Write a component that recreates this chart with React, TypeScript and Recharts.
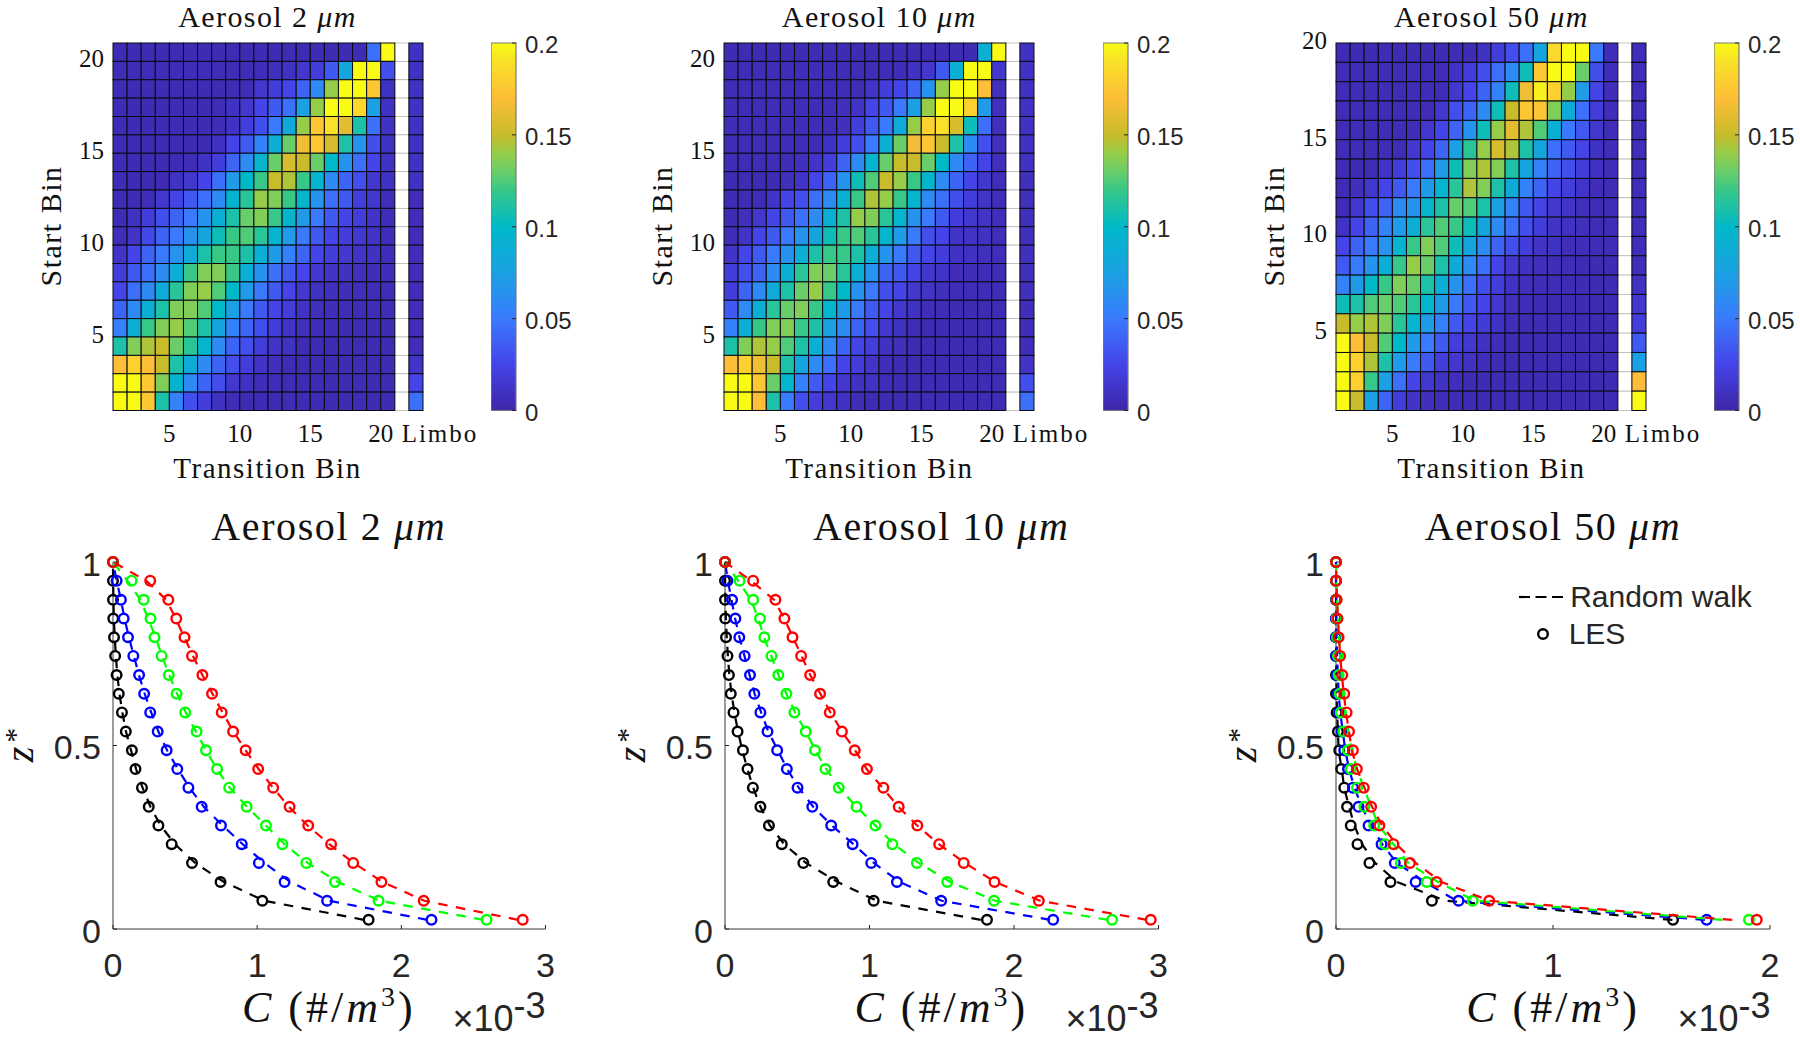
import React from "react";
import {
  BarChart,
  Bar,
  ScatterChart,
  Scatter,
  XAxis,
  YAxis,
} from "recharts";

const _ = null; // NaN column of the pcolor, left white

// transition matrices, values x 0.01, first row is the highest start bin
const heat2um = [
  [.5,.5,.5,.5,.5,.5,.5,.5,.5,.5,.5,.5,.5,.5,.5,.5,.5,.5,4.5,20,_,1],
  [.6,.6,.6,.6,.6,.6,.6,.6,.6,.6,.7,.8,1,1.5,2,3.5,8,20,20,3,_,1],
  [.5,.5,.5,.5,.5,.5,.5,.5,.6,.7,1.5,2,2.5,4,6,14,20,20,17.5,1,_,1],
  [.5,.5,.5,.5,.5,.5,.5,.6,1,1.5,2.5,3.5,4.5,7.5,14,20,20,18.5,7.5,1,_,1],
  [.5,.5,.5,.5,.5,.5,.5,.6,1,2,3,5,8.5,14,17.5,19,16,11,4.5,1,_,1],
  [.5,.5,.5,.5,.5,.5,.5,1,2.5,3.5,5.5,9,13,16.5,17.5,15.5,11,6.5,3,1,_,1],
  [.5,.5,.5,.5,.5,.6,1,2,4,6,9.5,13,15.5,15,13,10,6.5,4.5,2.5,1,_,1],
  [.5,.5,.5,.5,1,1.5,2.5,4.5,7,10,12,15,14.5,12,9.5,6,4,3,1.5,1,_,1],
  [.5,.5,.7,1.5,2.5,3.5,4.5,6,9.5,11.5,14,13.5,12,9.5,6.5,4.5,3.5,2,1.5,.7,_,.7],
  [.5,1,2,3,4,5,6.5,9,11,13,13.5,12,9.5,7,5,3.5,2.5,2,1.2,.7,_,.7],
  [.7,1.2,2.7,4,5,6.5,8,10.5,12,12.5,11.5,9.5,7,5,3.5,2.5,2,1.5,1.2,.7,_,.7],
  [1.2,2.5,4,5,6.5,8.5,11,12,12,11,9,7,5.5,4,2.5,2,1.5,1.2,1,.7,_,.7],
  [2,3.5,4.5,6,9,12,13.5,13.5,12,9,6.5,4.5,3.5,2.5,1.5,1.2,1,.8,.7,.7,_,.7],
  [2.5,4.5,6,8.5,11.5,13.5,14,12.5,10,7,5,3.5,2.5,1.5,1,.8,.7,.7,.6,.6,_,.7],
  [4,6,9,11,13.5,13.5,12.5,10,7.5,5,3.5,2.5,2,1,.8,.7,.6,.6,.6,.6,_,.7],
  [5.5,9,12,13.5,14,12.5,11,8,5.5,4,3,2,1.2,.8,.6,.6,.5,.5,.5,.5,_,.7],
  [11,13.5,14.5,15,13,11.5,9.5,6,4,3,2,1.2,1,.5,.5,.5,.5,.5,.5,.5,_,.7],
  [17,18,17,15,11,8.5,6,4,3,2,1.2,.8,.5,.5,.5,.5,.5,.5,.5,.5,_,1.2],
  [20,20,17.5,13.5,9.5,6,4,3,1.5,1,.7,.6,.5,.5,.5,.5,.5,.5,.5,.5,_,2.5],
  [20,20,17.5,11,5.5,3,2,1,.6,.5,.5,.5,.5,.5,.5,.5,.5,.5,.5,.5,_,4.5],
];

const heat10um = [
  [.5,.5,.5,.5,.5,.5,.5,.5,.5,.5,.5,.5,.5,.5,.5,.5,.5,.5,9,20,_,1],
  [.6,.6,.6,.6,.6,.6,.6,.6,.6,.6,.6,.6,.6,1,1.5,3.5,9,20,20,1.5,_,1],
  [.6,.6,.6,.6,.6,.6,.6,.6,.6,.6,1.2,2,2.5,4,6.5,14,20,20,17,.8,_,1],
  [.6,.6,.6,.6,.6,.6,.6,.6,.8,1.2,2.5,3.5,5,7.5,14,20,20,18,7,.8,_,1],
  [.6,.6,.6,.6,.6,.6,.6,.6,.8,2,3.5,5,8.5,14,18,19,15.5,10.5,4.5,.8,_,1],
  [.6,.6,.6,.6,.6,.6,.6,1,2,3,5,9,13,16.5,17.5,15,11,6,3,.8,_,1],
  [.6,.6,.6,.6,.6,.8,1.2,2,4,6,9.5,13,15,15,13,10,6,4,2.5,.8,_,1],
  [.5,.5,.5,.5,.8,1.2,2.5,4,6.5,10.5,12.5,15,14,12,9.5,6,4,2.5,1.5,.7,_,.8],
  [.5,.5,.6,1.2,2.5,3,4.5,6,9,12,14.5,14,12,9.5,6,4.5,3,2,1.2,.7,_,.8],
  [.5,.8,1.5,2.5,3.5,4.5,6,9,11,14,13.5,11.5,9.5,6.5,5,3.5,2,1.5,1.2,.7,_,.8],
  [.6,1.2,2.5,3.5,5,6.5,8,10.5,12,12.5,11.5,9.5,7,5,3,2.5,1.2,1.2,1,.7,_,.8],
  [1.2,2.5,3.5,5,6.5,9,11,12,12,11,9,6.5,5,3.5,2.5,2,1,1,.8,.7,_,.8],
  [2,3,4,6,9,11.5,13.5,13,11.5,9,6.5,4,3.5,2.5,1.5,1.2,.7,.7,.6,.6,_,.8],
  [2,4,6,8.5,11,13,14,12,10,6.5,5,3,2.5,1.5,1.2,.8,.6,.6,.6,.6,_,.8],
  [3.5,6,9,11.5,13,13.5,12,9.5,7,5,3.5,2.5,1.5,1,.7,.6,.5,.5,.5,.5,_,.7],
  [5.5,9,12,13.5,13.5,12,11,7.5,6,4,3,1.5,1,.6,.5,.5,.5,.5,.5,.5,_,.7],
  [11,13.5,14.5,14,12.5,11,9,6,4,2.5,2,1,.8,.5,.5,.5,.5,.5,.5,.5,_,.7],
  [17,18,16.5,15,11,8,6,4.5,2.5,2,1.2,.7,.5,.5,.5,.5,.5,.5,.5,.5,_,1.2],
  [20,20,17.5,13,9.5,5.5,3.5,2.5,1.5,1,1,.6,.5,.5,.5,.5,.5,.5,.5,.5,_,3],
  [20,20,17,11,5,3,2,1.5,1,.6,.5,.5,.5,.5,.5,.5,.5,.5,.5,.5,_,4.5],
];

const heat50um = [
  [.5,.5,.5,.5,.5,.5,.5,.5,.5,.5,1,2,3,4.5,8,18.5,20,20,5,.7,_,.7],
  [.6,.6,.6,.6,.6,.6,.6,.6,1,2,3,4.5,6,10.5,17.5,20,20,13,3,.7,_,.7],
  [.6,.6,.6,.6,.6,.6,.6,.6,1.5,2.5,4,5.5,10.5,16.5,19.5,18,14,7,2.5,.7,_,.7],
  [.6,.6,.6,.6,.6,.6,.6,1.5,3,4,6,10.5,15,17.5,17.5,13.5,8.5,4.5,2,.7,_,.7],
  [.6,.6,.6,.6,.6,.6,1.5,2.5,4,6.5,10.5,14,16,14.5,12.5,9,5,3.5,1.5,.7,_,.7],
  [.6,.6,.6,.6,.6,1.5,2.5,4,7.5,11.5,14,15.5,14.5,11,8,4.5,3.5,2.5,1,.7,_,.7],
  [.5,.5,.6,1.2,2,3,4.5,7,10.5,13.5,14.5,13.5,11,8,5.5,4,3,2,1,.7,_,.7],
  [.5,.8,1.5,2.5,3.5,5,7,9.5,11.5,14.5,13.5,11,8.5,5.5,4,2.5,2,1.2,.7,.6,_,.7],
  [.6,1.5,3,4,6,6.5,9.5,11,13,12.5,11,7.5,5.5,3.5,2.5,1.5,1.2,.8,.6,.6,_,.7],
  [1,2.5,4,5.5,7,9,11.5,12.5,12,10.5,8,6,4.5,3,2,1.2,1,.8,.6,.6,_,.7],
  [2.5,4,5,6.5,9.5,12,13.5,12.5,10.5,8,6,4,3,2,1.2,1,.7,.7,.6,.6,_,.7],
  [3.5,5,6.5,9,12,14,13,11,8.5,6,4.5,2.5,1.5,1,.8,.7,.6,.5,.5,.5,_,.7],
  [5.5,7,10,12,13.5,13,11,9,6.5,4.5,3,2,1,.8,.7,.6,.5,.5,.5,.5,_,1],
  [10.5,11,12.5,13,12.5,11.5,9.5,7,5,3.5,2.5,1.5,.8,.6,.5,.5,.5,.5,.5,.5,_,1.5],
  [15,14,14.5,13.5,11.5,9.5,7,5.5,3.5,2.5,1.8,1,.6,.5,.5,.5,.5,.5,.5,.5,_,2],
  [20,17,15,12.5,10,7,5,3.5,2,1.5,1,.7,.5,.5,.5,.5,.5,.5,.5,.5,_,3.5],
  [20,18,14.5,11,7,5,3.5,2,1.5,1,.7,.5,.5,.5,.5,.5,.5,.5,.5,.5,_,7.5],
  [20,18,12,7.5,4.5,2.5,1.5,1,.7,.5,.5,.5,.5,.5,.5,.5,.5,.5,.5,.5,_,17],
  [20,15,7.5,4,2,1.2,.8,.6,.5,.5,.5,.5,.5,.5,.5,.5,.5,.5,.5,.5,_,20],
];

const colorbarTicks = [0, 0.05, 0.1, 0.15, 0.2];

// parula: [fraction, r, g, b]
const parula = [
  [0, 62, 38, 168],
  [0.125, 68, 68, 232],
  [0.25, 58, 122, 254],
  [0.35, 32, 155, 232],
  [0.5, 0, 185, 200],
  [0.6, 55, 200, 135],
  [0.65, 105, 205, 105],
  [0.7, 150, 205, 72],
  [0.75, 200, 188, 42],
  [0.85, 254, 190, 55],
  [0.95, 248, 225, 40],
  [1, 249, 251, 20],
];

// height of the concentration samples
const zStar = [0.025, 0.077, 0.128, 0.18, 0.231, 0.282, 0.333, 0.385, 0.436, 0.487, 0.538, 0.59, 0.641, 0.692, 0.744, 0.795, 0.846, 0.897, 0.949, 1];

// concentration x 1e-3, bottom to top
const les2Black = [1.773, 1.036, 0.746, 0.548, 0.407, 0.315, 0.248, 0.201, 0.156, 0.131, 0.089, 0.062, 0.04, 0.025, 0.015, 0.007, 0.002, 0, 0, 0];
const les2Blue = [2.209, 1.485, 1.19, 1.012, 0.893, 0.749, 0.615, 0.523, 0.446, 0.372, 0.31, 0.258, 0.216, 0.181, 0.141, 0.104, 0.074, 0.055, 0.025, 0];
const les2Green = [2.591, 1.842, 1.54, 1.341, 1.175, 1.061, 0.927, 0.806, 0.722, 0.645, 0.58, 0.501, 0.441, 0.387, 0.337, 0.288, 0.26, 0.213, 0.129, 0];
const les2Red = [2.842, 2.155, 1.862, 1.666, 1.513, 1.354, 1.225, 1.111, 1.007, 0.92, 0.833, 0.754, 0.687, 0.62, 0.548, 0.496, 0.439, 0.384, 0.258, 0];
const rw2Black = [1.74, 1.05, 0.77, 0.57, 0.43, 0.33, 0.26, 0.205, 0.16, 0.125, 0.09, 0.065, 0.045, 0.03, 0.02, 0.012, 0.006, 0.003, 0.001, 0];
const rw2Blue = [2.18, 1.5, 1.23, 1.05, 0.9, 0.76, 0.63, 0.53, 0.45, 0.375, 0.315, 0.265, 0.22, 0.18, 0.145, 0.11, 0.08, 0.055, 0.025, 0];
const rw2Green = [2.57, 1.85, 1.56, 1.35, 1.19, 1.06, 0.93, 0.81, 0.72, 0.645, 0.575, 0.505, 0.445, 0.39, 0.34, 0.295, 0.245, 0.19, 0.1, 0];
const rw2Red = [2.81, 2.16, 1.87, 1.67, 1.5, 1.35, 1.22, 1.11, 1.01, 0.92, 0.835, 0.76, 0.69, 0.62, 0.555, 0.495, 0.435, 0.37, 0.23, 0];

const les10Black = [1.813, 1.029, 0.749, 0.542, 0.393, 0.304, 0.245, 0.193, 0.156, 0.124, 0.087, 0.059, 0.04, 0.027, 0.017, 0.007, 0.002, 0, 0, 0];
const les10Blue = [2.271, 1.496, 1.19, 1.012, 0.883, 0.735, 0.604, 0.502, 0.428, 0.361, 0.294, 0.245, 0.203, 0.173, 0.136, 0.099, 0.072, 0.049, 0.017, 0];
const les10Green = [2.679, 1.862, 1.538, 1.328, 1.158, 1.041, 0.91, 0.787, 0.695, 0.623, 0.559, 0.48, 0.425, 0.369, 0.322, 0.272, 0.242, 0.195, 0.101, 0];
const les10Red = [2.946, 2.172, 1.865, 1.652, 1.482, 1.331, 1.202, 1.096, 0.982, 0.898, 0.809, 0.725, 0.658, 0.589, 0.527, 0.467, 0.411, 0.349, 0.195, 0];
const rw10Black = [1.77, 1.05, 0.78, 0.56, 0.41, 0.31, 0.245, 0.195, 0.155, 0.12, 0.09, 0.065, 0.045, 0.03, 0.02, 0.012, 0.006, 0.003, 0.001, 0];
const rw10Blue = [2.25, 1.5, 1.21, 1.03, 0.89, 0.74, 0.61, 0.51, 0.43, 0.365, 0.3, 0.25, 0.205, 0.17, 0.135, 0.1, 0.07, 0.045, 0.02, 0];
const rw10Green = [2.65, 1.87, 1.56, 1.34, 1.17, 1.04, 0.91, 0.79, 0.7, 0.625, 0.56, 0.485, 0.425, 0.37, 0.32, 0.27, 0.23, 0.18, 0.09, 0];
const rw10Red = [2.92, 2.18, 1.87, 1.66, 1.48, 1.33, 1.2, 1.09, 0.98, 0.9, 0.81, 0.73, 0.66, 0.59, 0.53, 0.47, 0.41, 0.34, 0.18, 0];

const les50Black = [1.553, 0.442, 0.251, 0.154, 0.099, 0.068, 0.051, 0.038, 0.024, 0.015, 0.009, 0.003, 0, 0, 0, 0, 0, 0, 0, 0];
const les50Blue = [1.708, 0.565, 0.367, 0.271, 0.21, 0.15, 0.104, 0.078, 0.055, 0.038, 0.026, 0.014, 0.009, 0.003, 0, 0, 0, 0, 0, 0];
const les50Green = [1.903, 0.63, 0.418, 0.299, 0.227, 0.176, 0.131, 0.097, 0.068, 0.055, 0.034, 0.022, 0.017, 0.012, 0.009, 0.005, 0.003, 0.002, 0, 0];
const les50Red = [1.939, 0.706, 0.464, 0.341, 0.265, 0.2, 0.162, 0.128, 0.096, 0.078, 0.06, 0.049, 0.038, 0.029, 0.019, 0.012, 0.007, 0.003, 0, 0];
const rw50Black = [1.55, 0.503, 0.282, 0.18, 0.12, 0.085, 0.06, 0.038, 0.026, 0.012, 0.009, 0.005, 0.003, 0.002, 0.001, 0, 0, 0, 0, 0];
const rw50Blue = [1.7, 0.555, 0.41, 0.28, 0.213, 0.162, 0.119, 0.085, 0.06, 0.043, 0.031, 0.02, 0.012, 0.009, 0.005, 0.003, 0.002, 0.001, 0, 0];
const rw50Green = [1.78, 0.64, 0.47, 0.333, 0.265, 0.196, 0.162, 0.128, 0.097, 0.073, 0.056, 0.043, 0.031, 0.026, 0.019, 0.014, 0.009, 0.005, 0.002, 0];
const rw50Red = [1.826, 0.708, 0.486, 0.367, 0.278, 0.213, 0.166, 0.131, 0.097, 0.073, 0.06, 0.046, 0.036, 0.027, 0.019, 0.014, 0.009, 0.005, 0.002, 0];

const SERIF = "'Liberation Serif', serif";
const SANS = "'Liberation Sans', sans-serif";
const INK = "#262626";
const FRAME = "#7a7a7a";

const parulaColor = (v: number) => {
  const t = Math.min(1, Math.max(0, v / 20));
  for (let i = 1; i < parula.length; i++) {
    if (t <= parula[i][0]) {
      const a = parula[i - 1];
      const b = parula[i];
      const f = (t - a[0]) / (b[0] - a[0]);
      const ch = (k: number) => Math.round(a[k] + (b[k] - a[k]) * f);
      return `rgb(${ch(1)},${ch(2)},${ch(3)})`;
    }
  }
  return "rgb(249,251,20)";
};

const Txt = ({ x, y, size, font = SERIF, rotate = 0, spacing = 0, color = "#111", leading = 1, children }: any) => (
  <div
    style={{
      position: "absolute",
      left: x,
      top: y,
      transform: `translate(-50%,-50%) rotate(${rotate}deg)`,
      fontFamily: font,
      fontSize: size,
      letterSpacing: spacing,
      color,
      whiteSpace: "nowrap",
      lineHeight: leading,
    }}
  >
    {children}
  </div>
);

const HeatCell = (w: number, h: number) => (p: any) => {
  const empty = p.payload.v === null;
  return (
    <rect
      x={p.cx - w / 2}
      y={p.cy - h / 2}
      width={w}
      height={h}
      fill={empty ? "#fff" : parulaColor(p.payload.v)}
      stroke={empty ? "#b8b8b8" : "#0a0a14"}
      strokeWidth={empty ? 0.8 : 1}
    />
  );
};

const heatXTick = (p: any) => {
  const limbo = p.payload.value === 23;
  return (
    <text
      x={limbo ? p.x + 17 : p.x}
      y={p.y + 31}
      textAnchor="middle"
      fontFamily={SERIF}
      fontSize={25}
      letterSpacing={limbo ? 2 : 0}
      fill="#111"
    >
      {limbo ? "Limbo" : p.payload.value}
    </text>
  );
};

const heatYTick = (p: any) => (
  <text x={p.x - 9} y={p.y + 6} textAnchor="end" fontFamily={SERIF} fontSize={25} fill="#111">
    {p.payload.value}
  </text>
);

function HeatPanel({ rows, left, top, plotW, plotH, yMax, yTicks }: any) {
  const n = rows.length;
  const cells: any[] = [];
  rows.forEach((row: (number | null)[], r: number) => {
    row.forEach((v, c) => {
      cells.push({ x: c + 1.5, y: n - r + 0.5, v });
    });
  });
  // the white column goes first so its outline stays under the coloured cells
  cells.sort((a, b) => Number(b.v === null) - Number(a.v === null));
  const cw = plotW / 22;
  const ch = plotH / n;
  const padL = 80;
  const padT = 12;
  return (
    <div style={{ position: "absolute", left: left - padL, top: top - padT }}>
      <ScatterChart
        width={plotW + padL + 60}
        height={plotH + padT + 50}
        margin={{ top: padT, right: 60, bottom: 0, left: 0 }}
      >
        <XAxis
          type="number"
          dataKey="x"
          domain={[1, 23]}
          ticks={[5, 10, 15, 20, 23]}
          height={50}
          interval={0}
          tickSize={0}
          tickMargin={0}
          tickLine={false}
          axisLine={false}
          tick={heatXTick}
        />
        <YAxis
          type="number"
          dataKey="y"
          domain={[1, yMax]}
          ticks={yTicks}
          width={padL}
          interval={0}
          tickSize={0}
          tickMargin={0}
          tickLine={false}
          axisLine={false}
          tick={heatYTick}
        />
        <Scatter data={cells} isAnimationActive={false} shape={HeatCell(cw, ch)} />
      </ScatterChart>
    </div>
  );
}

function Colorbar({ id, left, top, plotW, plotH }: any) {
  const barTick = (p: any) => (
    <g>
      <line x1={p.x - 4} x2={p.x} y1={p.y} y2={p.y} stroke={INK} strokeWidth={1} />
      <text x={p.x + 9} y={p.y + 10} fontFamily={SANS} fontSize={24} fill={INK}>
        {p.payload.value}
      </text>
    </g>
  );
  return (
    <div style={{ position: "absolute", left, top: top - 20 }}>
      <BarChart
        width={plotW + 70}
        height={plotH + 40}
        data={[{ name: "c", v: 0.2 }]}
        margin={{ top: 20, right: 0, bottom: 20, left: 0 }}
        barCategoryGap={0}
      >
        <defs>
          <linearGradient id={id} x1="0" y1="1" x2="0" y2="0">
            {parula.map((s) => (
              <stop key={s[0]} offset={s[0]} stopColor={`rgb(${s[1]},${s[2]},${s[3]})`} />
            ))}
          </linearGradient>
        </defs>
        <XAxis dataKey="name" hide />
        <YAxis
          orientation="right"
          type="number"
          domain={[0, 0.2]}
          ticks={colorbarTicks}
          width={70}
          interval={0}
          tickSize={0}
          tickMargin={0}
          tickLine={false}
          axisLine={false}
          tick={barTick}
        />
        <Bar dataKey="v" fill={`url(#${id})`} stroke={FRAME} strokeWidth={1.2} isAnimationActive={false} />
      </BarChart>
    </div>
  );
}

const lineXTick = (p: any) => (
  <g>
    <line x1={p.x} x2={p.x} y1={p.y} y2={p.y - 4} stroke={INK} strokeWidth={1} />
    <text x={p.x} y={p.y + 48} textAnchor="middle" fontFamily={SANS} fontSize={34} fill={INK}>
      {p.payload.value}
    </text>
  </g>
);
const lineYTick = (p: any) => (
  <g>
    <line x1={p.x} x2={p.x + 4} y1={p.y} y2={p.y} stroke={INK} strokeWidth={1} />
    <text x={p.x - 12} y={p.y + 13.5} textAnchor="end" fontFamily={SANS} fontSize={34} fill={INK}>
      {p.payload.value}
    </text>
  </g>
);
const topTick = (p: any) => <line x1={p.x} x2={p.x} y1={p.y} y2={p.y + 4} stroke={INK} strokeWidth={1} />;
const rightTick = (p: any) => <line x1={p.x} x2={p.x - 4} y1={p.y} y2={p.y} stroke={INK} strokeWidth={1} />;

const pairUp = (c: number[]) => c.map((v, i) => ({ c: v, z: zStar[i] }));

const hiddenMark = () => <g />;
const ring = (color: string) => (p: any) => (
  <circle cx={p.cx} cy={p.cy} r={4.8} fill="none" stroke={color} strokeWidth={2.4} />
);

function ProfilePanel({ left, top, plotW, plotH, xMax, xTicks, series }: any) {
  const padL = 80;
  const padT = 20;
  const padR = 30;
  const frame = { stroke: FRAME, strokeWidth: 1.5 };
  return (
    <div style={{ position: "absolute", left: left - padL, top: top - padT }}>
      <ScatterChart
        width={plotW + padL + padR}
        height={plotH + padT + 60}
        margin={{ top: padT, right: padR, bottom: 0, left: 0 }}
      >
        <XAxis
          type="number"
          dataKey="c"
          domain={[0, xMax]}
          ticks={xTicks}
          height={60}
          interval={0}
          tickSize={0}
          tickMargin={0}
          tickLine={false}
          axisLine={frame}
          tick={lineXTick}
        />
        <XAxis
          xAxisId="top"
          orientation="top"
          type="number"
          domain={[0, xMax]}
          ticks={xTicks}
          height={0}
          interval={0}
          tickSize={0}
          tickMargin={0}
          tickLine={false}
          axisLine={frame}
          tick={topTick}
        />
        <YAxis
          type="number"
          dataKey="z"
          domain={[0, 1]}
          ticks={[0, 0.5, 1]}
          width={padL}
          interval={0}
          tickSize={0}
          tickMargin={0}
          tickLine={false}
          axisLine={frame}
          tick={lineYTick}
        />
        <YAxis
          yAxisId="right"
          orientation="right"
          type="number"
          domain={[0, 1]}
          ticks={[0, 0.5, 1]}
          width={0}
          interval={0}
          tickSize={0}
          tickMargin={0}
          tickLine={false}
          axisLine={frame}
          tick={rightTick}
        />
        {series.map((s: any) => [
          <Scatter
            key={s.color + "rw"}
            data={pairUp(s.rw)}
            isAnimationActive={false}
            line={{ stroke: s.color, strokeWidth: 2.2, strokeDasharray: "9.5 8.5" }}
            shape={hiddenMark}
          />,
          <Scatter
            key={s.color + "les"}
            data={pairUp(s.les)}
            isAnimationActive={false}
            shape={ring(s.color)}
          />,
        ])}
      </ScatterChart>
    </div>
  );
}

const series2 = [
  { color: "#000000", les: les2Black, rw: rw2Black },
  { color: "#0000ff", les: les2Blue, rw: rw2Blue },
  { color: "#00ff00", les: les2Green, rw: rw2Green },
  { color: "#ff0000", les: les2Red, rw: rw2Red },
];
const series10 = [
  { color: "#000000", les: les10Black, rw: rw10Black },
  { color: "#0000ff", les: les10Blue, rw: rw10Blue },
  { color: "#00ff00", les: les10Green, rw: rw10Green },
  { color: "#ff0000", les: les10Red, rw: rw10Red },
];
const series50 = [
  { color: "#000000", les: les50Black, rw: rw50Black },
  { color: "#0000ff", les: les50Blue, rw: rw50Blue },
  { color: "#00ff00", les: les50Green, rw: rw50Green },
  { color: "#ff0000", les: les50Red, rw: rw50Red },
];

const heatTop = 43;
const heatH = 367.5;
const heatW = 310;
const lineTop = 562;
const lineH = 367;

const columns = [
  { size: 2, heatX: 112.5, barX: 490.5, lineX: 112.5, lineW: 432.5, rows: heat2um, series: series2, xMax: 3, yMax: 21, yTicks: [5, 10, 15, 20], xTicks: [0, 1, 2, 3] },
  { size: 10, heatX: 724.3, barX: 1102.5, lineX: 724.5, lineW: 433.5, rows: heat10um, series: series10, xMax: 3, yMax: 21, yTicks: [5, 10, 15, 20], xTicks: [0, 1, 2, 3] },
  { size: 50, heatX: 1336.4, barX: 1714.3, lineX: 1336, lineW: 434, rows: heat50um, series: series50, xMax: 2, yMax: 20, yTicks: [5, 10, 15, 20], xTicks: [0, 1, 2] },
];

export default function App() {
  return (
    <div style={{ position: "absolute", left: 0, top: 0, width: 1800, height: 1041, background: "#fff", overflow: "hidden" }}>
      {columns.map((col) => (
        <React.Fragment key={col.size}>
          <HeatPanel rows={col.rows} left={col.heatX} top={heatTop} plotW={heatW} plotH={heatH} yMax={col.yMax} yTicks={col.yTicks} />
          <Colorbar id={`parula${col.size}`} left={col.barX} top={heatTop} plotW={25} plotH={heatH} />
          <Txt x={col.heatX + heatW / 2} y={17} size={30} spacing={1.4}>
            Aerosol {col.size} <i>μm</i>
          </Txt>
          <Txt x={col.heatX + heatW / 2} y={468} size={29} spacing={1.5}>
            Transition Bin
          </Txt>
          <Txt x={col.heatX - 62} y={226} size={30} spacing={1.5} rotate={-90}>
            Start Bin
          </Txt>

          <ProfilePanel left={col.lineX} top={lineTop} plotW={col.lineW} plotH={lineH} xMax={col.xMax} xTicks={col.xTicks} series={col.series} />
          <Txt x={col.lineX + col.lineW / 2} y={527} size={40} spacing={1.6}>
            Aerosol {col.size} <i>μm</i>
          </Txt>
          <Txt x={col.lineX + col.lineW / 2} y={1008} size={44} spacing={3}>
            <i>C</i> (#/<i>m</i>
            <sup style={{ fontSize: 28, lineHeight: 0 }}>3</sup>)
          </Txt>
          <Txt x={col.lineX + col.lineW - 46} y={1019} size={36} font={SANS} color={INK}>
            ×10
            <sup style={{ fontSize: 36, lineHeight: 0 }}>-3</sup>
          </Txt>
          <Txt x={col.lineX - 94} y={745} size={40} rotate={-90} leading={0.6}>
            <i style={{ marginRight: 4 }}>z</i>
            <span style={{ fontSize: 30, verticalAlign: 8 }}>*</span>
          </Txt>
        </React.Fragment>
      ))}

      {/* legend of the last profile panel */}
      <svg style={{ position: "absolute", left: 1515, top: 585, width: 60, height: 60 }}>
        <line x1={4} x2={52} y1={12} y2={12} stroke="#000" strokeWidth={2.2} strokeDasharray="11 5.5" />
        <circle cx={28} cy={49} r={4.8} fill="none" stroke="#000" strokeWidth={2.4} />
      </svg>
      <Txt x={1661} y={597} size={30} font={SANS} color={INK}>Random walk</Txt>
      <Txt x={1597} y={634} size={30} font={SANS} color={INK}>LES</Txt>
    </div>
  );
}
